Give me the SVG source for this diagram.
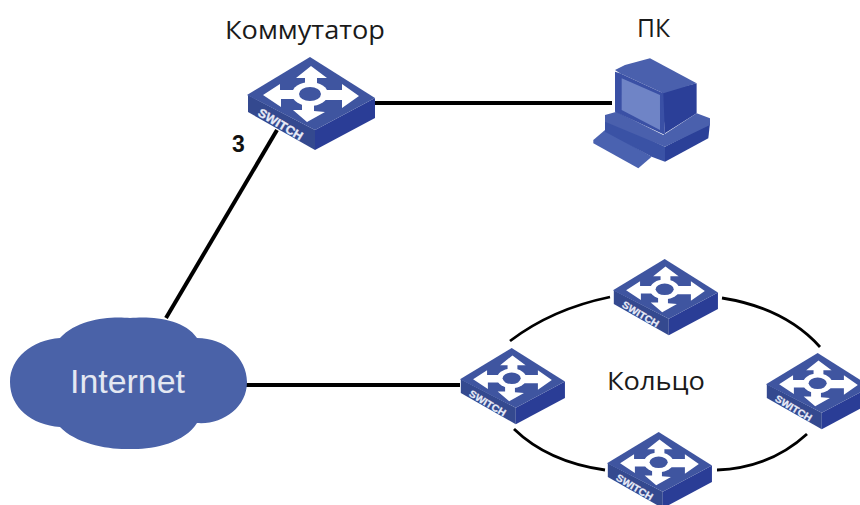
<svg xmlns="http://www.w3.org/2000/svg" width="860" height="505" viewBox="0 0 860 505">
<style>
.c{fill:none;stroke:#000;stroke-width:4;stroke-linecap:butt}
.r{fill:none;stroke:#000;stroke-width:2.8}
.l{font-family:"Open Sans","Liberation Sans",sans-serif;fill:#1a1a1a;font-size:26px}
.sw{font-family:"Liberation Sans",sans-serif;font-weight:bold;font-size:12px;fill:#e8ecf8;stroke:#e8ecf8;stroke-width:.3}
</style>
<defs>
<g id="sw">
<polygon points="1,38 68,73 68,93 1,55" fill="#34498f"/>
<polygon points="68,73 128,41 128,61 68,93" fill="#2a3d96"/>
<polygon points="63,0 128,41 68,73 0,38" fill="#3f55a0"/>
<g fill="#fff">
<path d="M64,9 49,21 58,21 58,30 70,30 70,21 80,21Z"/>
<path d="M60,65 46,53 55,53 55,44 67,44 67,54 78,55Z"/>
<path d="M16,38 33,27 33,33 48,33 48,42 34,42 34,50Z"/>
<path d="M112,39 95,27 95,33 78,33 78,43 95,43 95,51Z"/>
<ellipse cx="63" cy="37" rx="18" ry="12"/>
</g>
<ellipse cx="63" cy="37" rx="11" ry="7" fill="#3f55a0"/>
</g>
</defs>
<rect width="860" height="505" fill="#fff"/>
<g id="connectors">
<line class="c" x1="375" y1="103" x2="612" y2="103"/>
<line class="c" x1="277" y1="130" x2="166" y2="318"/>
<line class="c" x1="246" y1="385" x2="460" y2="385"/>
<path class="r" d="M510,341Q552,309 610,297"/>
<path class="r" d="M722,298Q785,308 820,347"/>
<path class="r" d="M514,429Q548,462 605,470"/>
<path class="r" d="M717,470Q770,468 807,434"/>
</g>
<g id="switch-main" transform="translate(247,57)">
<use href="#sw"/>
<text class="sw" transform="translate(10,58) rotate(31)" textLength="50" lengthAdjust="spacingAndGlyphs">SWITCH</text>
</g>
<text id="label-3" x="232" y="152" font-family="Liberation Sans,sans-serif" font-weight="bold" font-size="23" fill="#111">3</text>
<text id="label-switch" class="l" x="225" y="39" textLength="160" lengthAdjust="spacingAndGlyphs">Коммутатор</text>
<text id="label-pc" class="l" x="637" y="37" textLength="33" lengthAdjust="spacingAndGlyphs">ПК</text>
<g id="pc" transform="translate(580,50) scale(.3333)">
<polygon points="40,270 75,240 215,320 175,355 40,280" fill="#4a62b0"/>
<polygon points="75,205 255,290 255,335 215,320 75,245" fill="#3a52a5"/>
<polygon points="255,290 390,220 385,265 255,335" fill="#2b4098"/>
<polygon points="75,195 110,185 250,255 350,190 390,205 390,225 255,290 75,215" fill="#4a60ad"/>
<polygon points="245,125 350,100 350,190 255,250" fill="#2b3f98"/>
<polygon points="105,60 135,45 210,25 350,100 250,130 120,70" fill="#4a60ad"/>
<polygon points="105,65 120,70 250,130 255,255 105,185" fill="#3a50a5"/>
<polygon points="125,85 240,135 240,240 125,180" fill="#6f84c6"/>
</g>
<g id="internet">
<path d="M60,338C78,318 112,316 130,318C150,316 184,318 197,338C225,338 247,358 247,382C247,408 222,425 197,423C184,444 150,450 130,449C110,450 76,444 60,427C32,425 10,408 10,382C10,358 32,340 60,338Z" fill="#4a62a8"/>
<text x="70" y="393" font-family="Liberation Sans,sans-serif" font-size="33" fill="#e4e8f2" textLength="115" lengthAdjust="spacingAndGlyphs">Internet</text>
</g>
<g id="switch-top" transform="translate(613,259) scale(.82)">
<use href="#sw"/>
<text class="sw" transform="translate(10,58) rotate(31)" textLength="50" lengthAdjust="spacingAndGlyphs">SWITCH</text>
</g>
<g id="switch-left" transform="translate(460,348) scale(.82)">
<use href="#sw"/>
<text class="sw" transform="translate(10,58) rotate(31)" textLength="50" lengthAdjust="spacingAndGlyphs">SWITCH</text>
</g>
<g id="switch-right" transform="translate(766,353) scale(.82)">
<use href="#sw"/>
<text class="sw" transform="translate(10,58) rotate(31)" textLength="50" lengthAdjust="spacingAndGlyphs">SWITCH</text>
</g>
<g id="switch-bottom" transform="translate(607,432) scale(.82)">
<use href="#sw"/>
<text class="sw" transform="translate(10,58) rotate(31)" textLength="50" lengthAdjust="spacingAndGlyphs">SWITCH</text>
</g>
<text id="label-ring" class="l" x="607" y="390" textLength="98" lengthAdjust="spacingAndGlyphs">Кольцо</text>
</svg>
